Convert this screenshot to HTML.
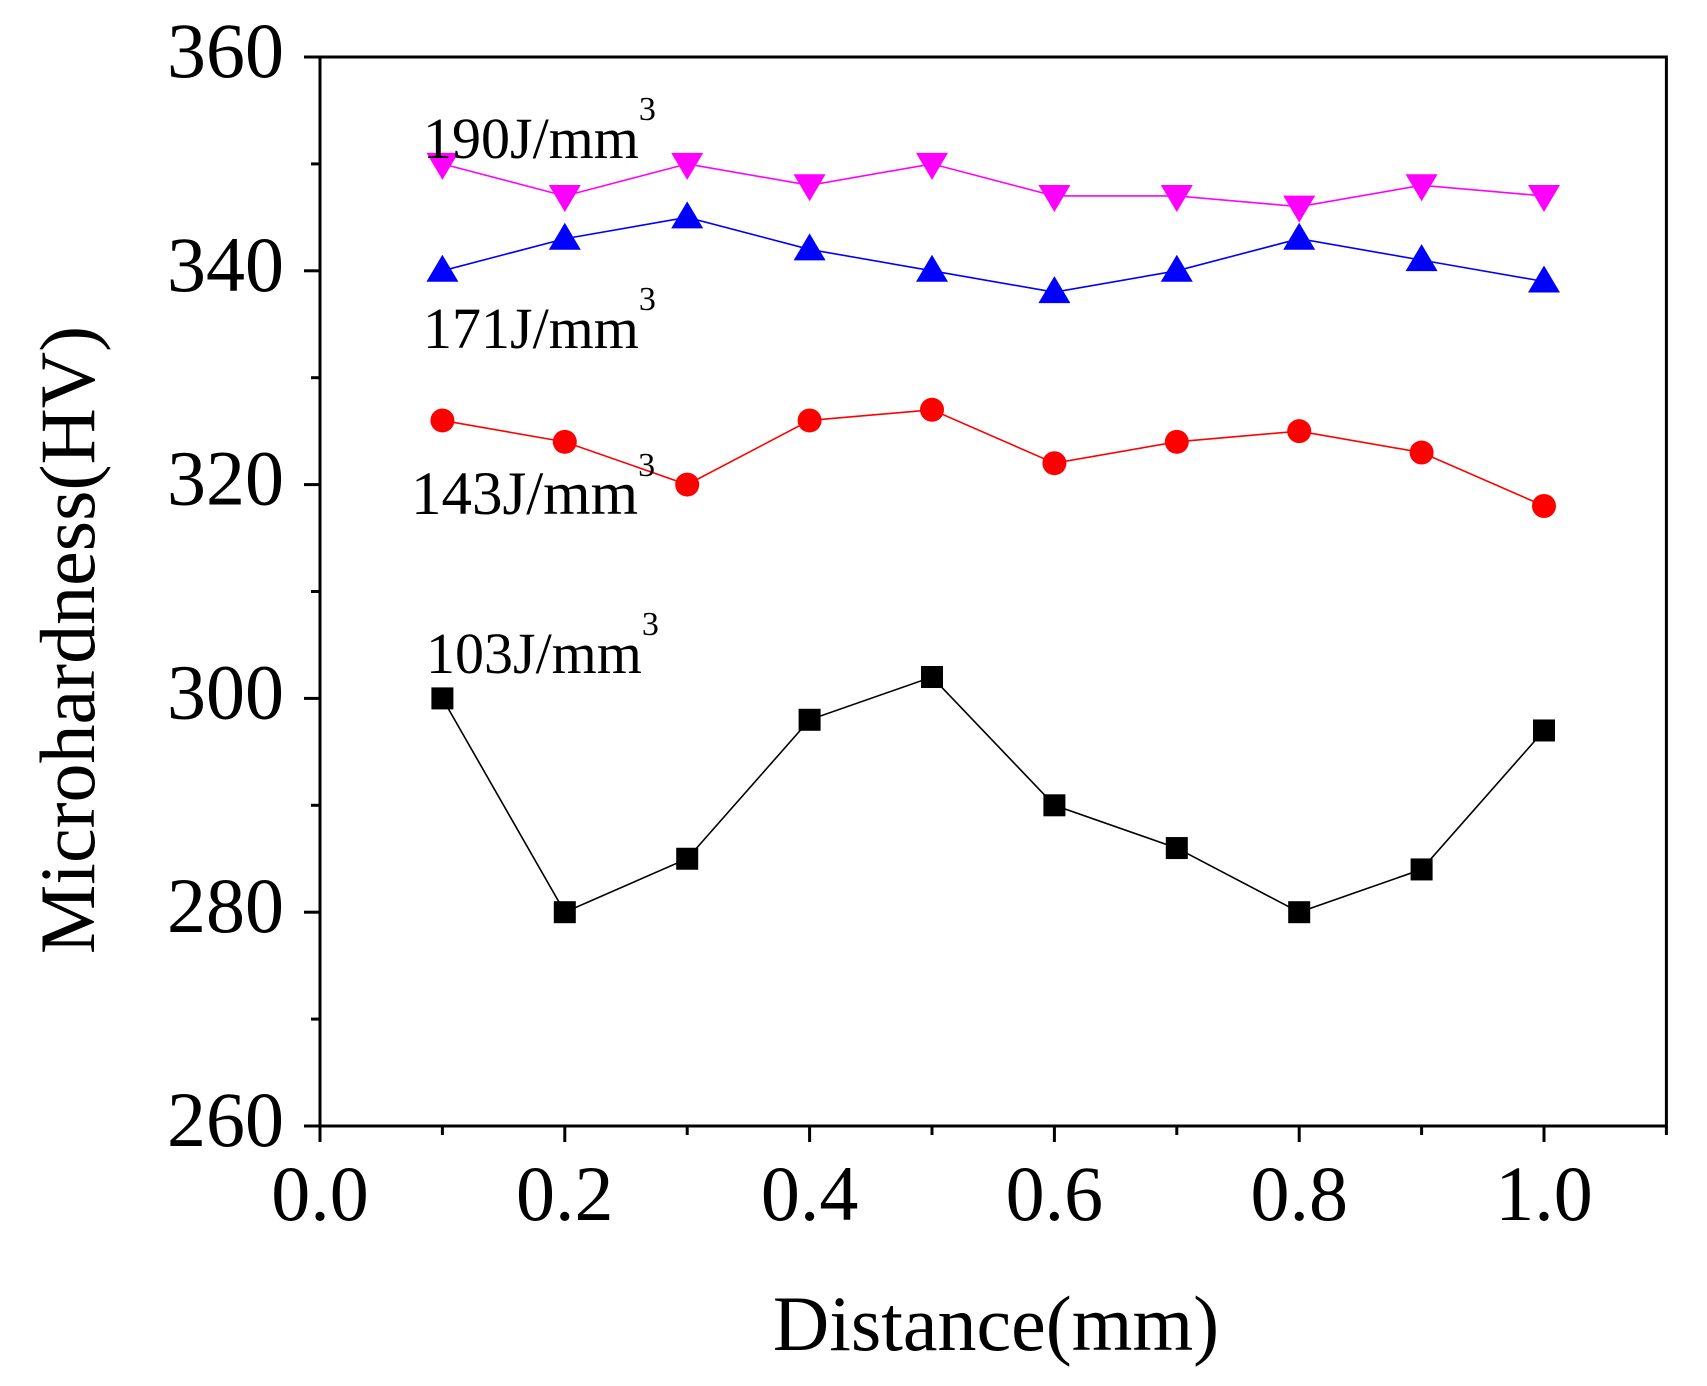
<!DOCTYPE html>
<html><head><meta charset="utf-8"><style>
html,body{margin:0;padding:0;background:#fff;}
svg{display:block;font-family:"Liberation Serif",serif;}
</style></head><body>
<svg id="s" width="1707" height="1386" viewBox="0 0 1707 1386" xmlns="http://www.w3.org/2000/svg"></svg>
<script>
const s=document.getElementById('s');
const X=v=>320+v*1224, Y=v=>57+(360-v)*(1069/100);
let h='';
h+=`<rect x="320" y="57" width="${11*122.4}" height="1069" fill="none" stroke="#000" stroke-width="3"/>`;
for(let i=0;i<=11;i++){const x=X(i/10);const L=i%2==0?16:9;h+=`<line x1="${x}" y1="1126" x2="${x}" y2="${1126+L}" stroke="#000" stroke-width="3"/>`;
 if(i%2==0)h+=`<text x="${x}" y="1220" font-size="78" text-anchor="middle">${(i/10).toFixed(1)}</text>`;}
for(let v=260;v<=360;v+=10){const y=Y(v);const L=v%20==0?16:9;h+=`<line x1="${320-L}" y1="${y}" x2="320" y2="${y}" stroke="#000" stroke-width="3"/>`;
 if(v%20==0)h+=`<text x="284" y="${y+20}" font-size="78" text-anchor="end">${v}</text>`;}
h+=`<text x="996" y="1350" font-size="78" text-anchor="middle">Distance(mm)</text>`;
h+=`<text transform="translate(94,640) rotate(-90)" font-size="78" text-anchor="middle">Microhardness(HV)</text>`;
const xs=[0.1,0.2,0.3,0.4,0.5,0.6,0.7,0.8,0.9,1.0];
const S=[
 {c:'#000',d:[300,280,285,298,302,290,286,280,284,297],m:'sq'},
 {c:'#f00',d:[326,324,320,326,327,322,324,325,323,318],m:'ci'},
 {c:'#00f',d:[340,343,345,342,340,338,340,343,341,339],m:'up'},
 {c:'#f0f',d:[350,347,350,348,350,347,347,346,348,347],m:'dn'}];
for(const k of S){
 h+=`<polyline fill="none" stroke="${k.c}" stroke-width="1.6" points="${xs.map((x,i)=>X(x)+','+Y(k.d[i])).join(' ')}"/>`;
 xs.forEach((x,i)=>{const cx=X(x),cy=Y(k.d[i]);
  if(k.m=='sq')h+=`<rect x="${cx-11}" y="${cy-11}" width="22" height="22" fill="${k.c}"/>`;
  if(k.m=='ci')h+=`<circle cx="${cx}" cy="${cy}" r="12" fill="${k.c}"/>`;
  if(k.m=='up')h+=`<polygon points="${cx-16},${cy+11} ${cx+16},${cy+11} ${cx},${cy-16}" fill="${k.c}"/>`;
  if(k.m=='dn')h+=`<polygon points="${cx-16},${cy-11} ${cx+16},${cy-11} ${cx},${cy+16}" fill="${k.c}"/>`;
 });
}
const lab=(x,y,t,f)=>`<text x="${x}" y="${y}" font-size="${f||58}">${t}<tspan font-size="34" dy="-38">3</tspan></text>`;
h+=lab(423,158,'190J/mm');
h+=lab(423,348,'171J/mm');
h+=lab(411,514,'143J/mm',61);
h+=lab(426,673,'103J/mm');
s.innerHTML=h;
</script>
</body></html>
